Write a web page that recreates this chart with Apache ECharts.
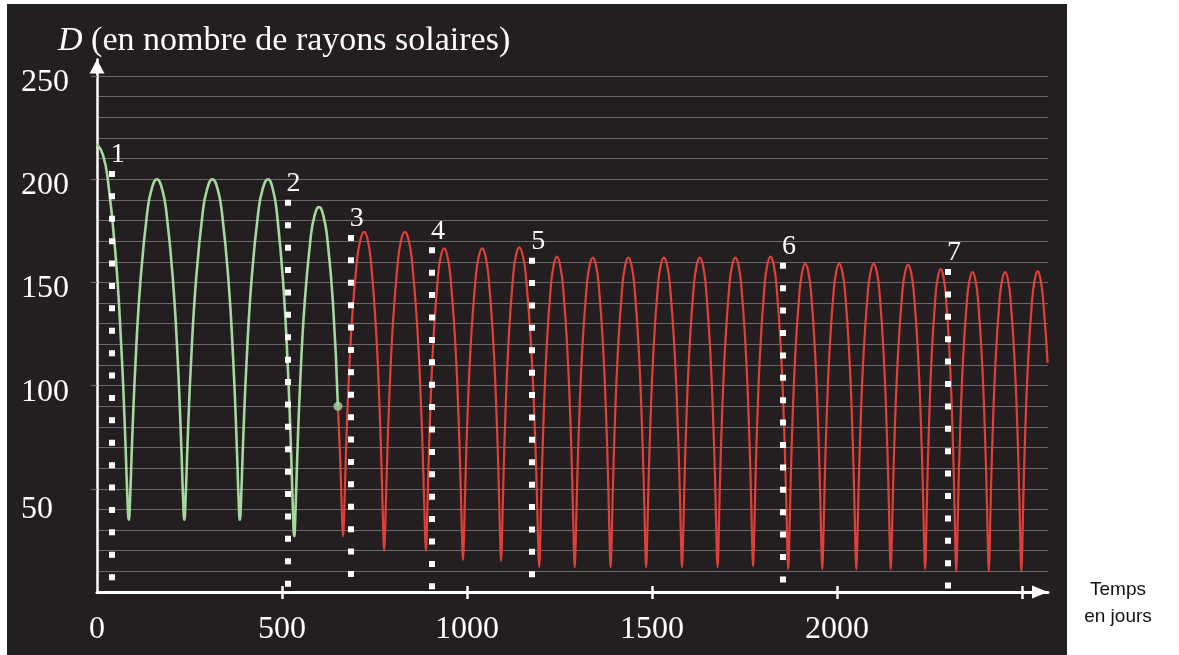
<!DOCTYPE html>
<html>
<head>
<meta charset="utf-8">
<script src="https://cdn.jsdelivr.net/npm/echarts@6/dist/echarts.min.js"></script>
<style>
html,body{margin:0;padding:0;background:#ffffff;width:1179px;height:655px;overflow:hidden;}
#panel{position:absolute;left:7px;top:4px;width:1060px;height:651px;background:#231f20;}
#chart{position:absolute;left:0;top:0;width:1179px;height:655px;}
</style>
</head>
<body>
<div id="panel"></div>
<div id="chart"></div>
<script>
// ---- data (days, D in solar radii) ----
const xLabelValues = [0, 500, 1000, 1500, 2000];
const xTickValues = [500, 1000, 1500, 2000, 2500];
const yLabelValues = [50, 100, 150, 200, 250];

const greenPhase = [
[0,217],[16.3,211.7],[29.8,199],[49.9,163.9],[65.4,119.6],[75.9,76.9],[82.1,46.1],[86,35],
[89.4,45.1],[94.9,73],[104.2,111.7],[117.9,151.8],[135.6,183.7],[147.6,195.2],[162,200],
[176,195.2],[187.7,183.7],[204.9,151.8],[218.3,111.7],[227.3,73],[232.7,45.1],[236,35],
[239.4,45.1],[244.9,73],[254.2,111.7],[267.9,151.8],[285.6,183.7],[297.6,195.2],[312,200],
[326,195.2],[337.7,183.7],[354.9,151.8],[368.3,111.7],[377.3,73],[382.7,45.1],[386,35],
[389.4,45.1],[394.9,73],[404.2,111.7],[417.9,151.8],[435.6,183.7],[447.6,195.2],[462,200],
[475.4,195],[486.6,182.9],[503.2,149.5],[516,107.4],[524.7,66.8],[529.8,37.6],[533,27],
[536,36.7],[540.8,63.7],[549,101.2],[561.1,139.9],[576.8,170.7],[587.3,181.9],[600,186.5],
[612.3,181.9],[622.6,170.7],[637.7,139.9],[651,90]
];
const greenEnd = [[651,90]];

const redPhase = [
[651,90],[657.4,63.7],[662.1,36.7],[665,27],
[667.6,36],[671.7,60.9],[678.6,95.6],[688.9,131.4],[702.2,159.9],[711.2,170.2],[722,174.5],
[732.2,170],[740.7,159.2],[753.3,129.4],[763.1,91.8],[769.7,55.5],[773.6,29.4],[776,20],
[778.5,29.4],[782.6,55.5],[789.4,91.8],[799.5,129.4],[812.6,159.2],[821.4,170],[832,174.5],
[842.8,170],[851.8,159.2],[865.1,129.4],[875.4,91.8],[882.3,55.5],[886.4,29.4],[889,20],
[891.2,28.9],[894.7,53.7],[900.7,88.1],[909.6,123.7],[921,152],[928.7,162.3],[938,166.5],
[947.6,162.1],[955.7,151.6],[967.6,122.4],[976.8,85.7],[983,50.2],[986.7,24.7],[989,15.5],
[991.3,24.7],[995.1,50.2],[1001.4,85.7],[1010.8,122.4],[1023,151.6],[1031.2,162.1],[1041,166.5],
[1050.6,162.1],[1058.7,151.5],[1070.6,122.3],[1079.8,85.4],[1086,49.8],[1089.7,24.2],[1092,15],
[1094.2,24.3],[1097.7,50],[1103.7,85.7],[1112.6,122.6],[1124,152],[1131.7,162.6],[1141,167],
[1151.2,162.5],[1159.7,151.7],[1172.3,121.7],[1182.1,84.1],[1188.7,47.7],[1192.6,21.5],[1195,12],
[1197.2,21.2],[1200.6,46.6],[1206.5,82],[1215.2,118.6],[1226.3,147.6],[1233.9,158.1],[1243,162.5],
[1252.1,157.7],[1259.7,147.2],[1270.8,118.2],[1279.5,81.8],[1285.4,46.5],[1288.8,21.2],[1291,12],
[1293.2,21.2],[1296.7,46.5],[1302.7,81.8],[1311.6,118.2],[1323,147.2],[1330.7,157.7],[1340,162],
[1349.1,157.7],[1356.7,147.2],[1367.8,118.2],[1376.5,81.8],[1382.4,46.5],[1385.8,21.2],[1388,12],
[1390.2,21.2],[1393.6,46.5],[1399.5,81.8],[1408.2,118.2],[1419.3,147.2],[1426.9,157.7],[1436,162],
[1445.1,157.7],[1452.7,147.2],[1463.8,118.2],[1472.5,81.8],[1478.4,46.5],[1481.8,21.2],[1484,12],
[1486.2,21.2],[1489.6,46.5],[1495.5,81.8],[1504.2,118.2],[1515.3,147.2],[1522.9,157.7],[1532,162],
[1541.3,157.7],[1549,147.2],[1560.4,118.2],[1569.3,81.8],[1575.3,46.5],[1578.8,21.2],[1581,12],
[1583.2,21.2],[1586.6,46.5],[1592.5,81.8],[1601.2,118.2],[1612.3,147.2],[1619.9,157.7],[1629,162],
[1638.1,157.7],[1645.7,147.2],[1656.8,118.2],[1665.5,81.8],[1671.4,46.5],[1674.8,21.2],[1677,12],
[1679.2,21.2],[1682.6,46.5],[1688.5,81.8],[1697.2,118.2],[1708.3,147.2],[1715.9,157.7],[1725,162],
[1734.1,157.8],[1741.7,147.3],[1752.8,118.5],[1761.5,82.2],[1767.4,47],[1770.8,21.7],[1773,12.5],
[1775.1,21.7],[1778.5,47],[1784.2,82.3],[1792.7,118.7],[1803.7,147.7],[1811.1,158.2],[1820,162.5],
[1829.1,158.1],[1836.7,147.5],[1847.8,118.3],[1856.5,81.4],[1862.4,45.8],[1865.8,20.2],[1868,11],
[1870.1,20],[1873.4,45],[1879,79.8],[1887.3,115.8],[1898,144.3],[1905.3,154.7],[1914,159],
[1922.7,154.7],[1930,144.3],[1940.7,115.8],[1949,79.8],[1954.6,45],[1957.9,20],[1960,11],
[1962.1,20],[1965.4,45],[1971,79.8],[1979.3,115.8],[1990,144.3],[1997.3,154.7],[2006,159],
[2014.7,154.7],[2022,144.3],[2032.7,115.8],[2041,79.8],[2046.6,45],[2049.9,20],[2052,11],
[2054.1,20],[2057.5,45],[2063.2,79.8],[2071.7,115.8],[2082.7,144.3],[2090.1,154.7],[2099,159],
[2107.7,154.7],[2115,144.3],[2125.7,115.8],[2134,79.8],[2139.6,45],[2142.9,20],[2145,11],
[2147.1,20],[2150.5,44.9],[2156.2,79.6],[2164.7,115.4],[2175.7,143.9],[2183.1,154.2],[2192,158.5],
[2200.7,154.2],[2208,143.9],[2218.7,115.4],[2227,79.6],[2232.6,44.9],[2235.9,20],[2238,11],
[2239.9,19.9],[2242.9,44.5],[2248,78.7],[2255.6,114],[2265.4,142.1],[2272.1,152.3],[2280,156.5],
[2287.9,152.3],[2294.6,142],[2304.4,113.7],[2312,78.1],[2317.1,43.7],[2320.1,18.9],[2322,10],
[2324,18.8],[2327.1,43.4],[2332.5,77.4],[2340.5,112.7],[2350.7,140.6],[2357.7,150.8],[2366,155],
[2374.3,150.8],[2381.3,140.6],[2391.5,112.7],[2399.5,77.4],[2404.9,43.4],[2408,18.8],[2410,10],
[2412,18.8],[2415.1,43.4],[2420.5,77.4],[2428.5,112.7],[2438.7,140.6],[2445.7,150.8],[2454,155],
[2462.3,150.8],[2469.3,140.6],[2479.5,112.7],[2487.5,77.4],[2492.9,43.4],[2496,18.8],[2498,10],
[2500,18.8],[2503.1,43.4],[2508.5,77.4],[2516.5,112.7],[2526.7,140.6],[2533.7,150.8],[2542,155.5],
[2550.3,150.8],[2557.3,140.6],[2569,111]
];

// dotted markers (numbered events)
const eventNames = ['1','2','3','4','5','6','7'];
const eventDays  = [40, 515, 686, 905, 1176, 1854, 2300];
const eventTops  = [204, 190, 173, 167, 162, 159.5, 156.5];

// ---- chart ----
const chart = echarts.init(document.getElementById('chart'), null, {renderer:'canvas'});

const markData = eventNames.map(function (n, i) {
  return [{name: n, coord: [eventDays[i], eventTops[i]]}, {coord: [eventDays[i], 0]}];
});

const serif = '"Liberation Serif", "DejaVu Serif", serif';
const labelRich = {
  n:  { color: '#ffffff', fontFamily: serif, fontSize: 32, lineHeight: 13 },
  lo: { color: '#ffffff', fontFamily: serif, fontSize: 32, lineHeight: 42 }
};

const option = {
  backgroundColor: 'transparent',
  animation: false,
  title: {
    text: '{d|D} (en nombre de rayons solaires)',
    left: 53,
    top: 19,
    textStyle: {
      color: '#ffffff', fontFamily: serif, fontSize: 34, fontWeight: 'normal',
      rich: { d: { fontStyle: 'italic', color: '#ffffff', fontFamily: serif, fontSize: 34 } }
    }
  },
  graphic: [{
    type: 'text', x: 1118, y: 603.5, silent: true,
    style: { text: 'Temps\nen jours', fill: '#111111', font: '19px "Liberation Sans", Arial, sans-serif',
      lineHeight: 27, align: 'center', verticalAlign: 'middle' }
  }],
  grid: { left: 97, right: 131, top: 59.5, bottom: 63, containLabel: false },
  xAxis: [{
    type: 'value', min: 0, max: 2570,
    axisLine: { show: true, lineStyle: { color: '#ffffff', width: 3 },
      symbol: ['none', 'triangle'], symbolSize: [13, 16], symbolOffset: [0, -8] },
    axisTick: { show: true, customValues: xTickValues, length: 7, lineStyle: { color: '#ffffff', width: 2.5 } },
    axisLabel: { customValues: xLabelValues, formatter: function (v) { return String(v); },
      color: '#ffffff', fontFamily: serif, fontSize: 32, margin: 22 },
    splitLine: { show: false }
  }, {
    type: 'value', min: 0, max: 2570, position: 'bottom', gridIndex: 0,
    axisLine: { show: false },
    axisTick: { show: true, inside: true, customValues: xTickValues, length: 6, lineStyle: { color: '#ffffff', width: 2.5 } },
    axisLabel: { show: false },
    splitLine: { show: false }
  }],
  yAxis: [{
    type: 'value', min: 0, max: 258, interval: 10,
    axisLine: { show: true, onZero: false, lineStyle: { color: '#ffffff', width: 2.5 },
      symbol: ['none', 'triangle'], symbolSize: [15, 14], symbolOffset: [0, -7] },
    axisTick: { show: false },
    axisLabel: { customValues: yLabelValues,
      formatter: function (v) { return v === 50 ? '{lo|' + v + '}' : '{n|' + v + '}'; },
      rich: labelRich, margin: 76, align: 'left', verticalAlign: 'top' },
    splitLine: { show: true, showMaxLine: false, lineStyle: { color: '#6a6768', width: 1.2 } }
  }, {
    type: 'value', min: 0, max: 258, interval: 10, position: 'left', gridIndex: 0,
    axisLine: { show: false },
    axisTick: { show: true, customValues: yLabelValues, length: 6, lineStyle: { color: '#6a6768', width: 1.2 } },
    axisLabel: { show: false },
    splitLine: { show: false }
  }],
  series: [{
    type: 'line', name: 'phase1', data: greenPhase, showSymbol: false, z: 3, smooth: 0.5,
    lineStyle: { color: '#a5d89e', width: 2.6 }
  }, {
    type: 'line', name: 'phase2', data: redPhase, showSymbol: false, z: 3, smooth: 0.5,
    lineStyle: { color: '#e13f38', width: 2.2 },
    markLine: {
      silent: true, symbol: ['none', 'none'], z: 5,
      lineStyle: { color: '#ffffff', width: 6, type: [6, 16.4], cap: 'butt', opacity: 1 },
      label: { show: true, position: 'start', formatter: '{b}', color: '#ffffff', fontFamily: serif, fontSize: 28, distance: 2, offset: [6, 0] },
      emphasis: { disabled: true },
      data: markData
    }
  }, {
    type: 'scatter', name: 'end', data: greenEnd, symbolSize: 9, z: 4,
    itemStyle: { color: '#a5d89e' }
  }]
};
chart.setOption(option);
</script>
</body>
</html>
